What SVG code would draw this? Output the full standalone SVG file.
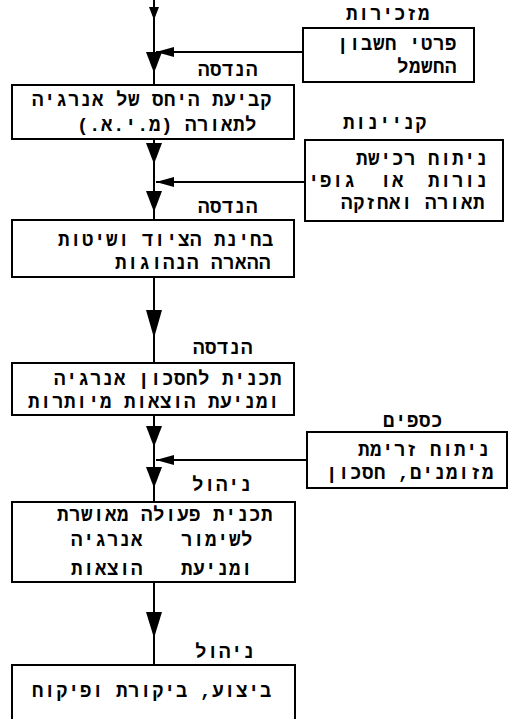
<svg xmlns="http://www.w3.org/2000/svg" xmlns:xlink="http://www.w3.org/1999/xlink" width="509" height="719" viewBox="0 0 509 719">
<style>
  .box { fill: #fff; stroke: #000; stroke-width: 2; }
  .t { font-family: "Liberation Mono", "DejaVu Sans Mono", monospace; font-size: 19px; letter-spacing: 0.6px; font-weight: bold; fill: #000; direction: rtl; text-anchor: start; }
  .ln { stroke: #000; stroke-width: 2; fill: none; }
  .ah { fill: #000; }
</style>
<defs>
  <path id="down" d="M-8,-21 L8,-21 L0,0 Z"/>
  <path id="left" d="M0,0 L18,-5 L18,5 Z"/>
</defs>
<rect width="509" height="719" fill="#fff"/>

<g id="connectors">
  <line class="ln" x1="154" y1="0" x2="154" y2="85"/>
  <line class="ln" x1="154" y1="139" x2="154" y2="220"/>
  <line class="ln" x1="154" y1="277" x2="154" y2="363"/>
  <line class="ln" x1="154" y1="415" x2="154" y2="502"/>
  <line class="ln" x1="154" y1="582" x2="154" y2="665"/>
  <line class="ln" x1="303" y1="52" x2="156" y2="52"/>
  <line class="ln" x1="305" y1="182" x2="156" y2="182"/>
  <line class="ln" x1="307" y1="460" x2="156" y2="460"/>
  <path class="ah" d="M149,7 L159,7 L154,20 Z"/>
  <use xlink:href="#down" class="ah" x="154" y="73"/>
  <use xlink:href="#down" class="ah" x="154" y="164"/>
  <use xlink:href="#down" class="ah" x="154" y="212"/>
  <path class="ah" d="M146,310 L162,310 L154,338 Z"/>
  <use xlink:href="#down" class="ah" x="154" y="447"/>
  <use xlink:href="#down" class="ah" x="154" y="488"/>
  <path class="ah" d="M146,612 L162,612 L154,638 Z"/>
  <use xlink:href="#left" class="ah" x="156" y="52"/>
  <use xlink:href="#left" class="ah" x="156" y="182"/>
  <use xlink:href="#left" class="ah" x="156" y="460"/>
</g>

<g id="node-secretariat">
  <text class="t" x="430" y="20">מזכירות</text>
  <rect class="box" x="303" y="28" width="171" height="54"/>
  <text class="t" x="457" y="50">פרטי חשבון</text>
  <text class="t" x="457" y="73">החשמל</text>
</g>

<g id="node-ratio">
  <text class="t" x="258" y="76">הנדסה</text>
  <rect class="box" x="12" y="85" width="282" height="54"/>
  <text class="t" x="272" y="106">קביעת היחס של אנרגיה</text>
  <text class="t" x="257" y="131">לתאורה (מ.י.א.)</text>
</g>

<g id="node-purchasing">
  <text class="t" x="427" y="129">קניינות</text>
  <rect class="box" x="305" y="140" width="198" height="81"/>
  <text class="t" x="488" y="165">ניתוח רכישת</text>
  <text class="t" x="488" y="187" xml:space="preserve">נורות  או  גופי</text>
  <text class="t" x="485" y="209">תאורה ואחזקה</text>
</g>

<g id="node-equipment">
  <text class="t" x="258" y="213">הנדסה</text>
  <rect class="box" x="12" y="220" width="282" height="57"/>
  <text class="t" x="274" y="246">בחינת הציוד ושיטות</text>
  <text class="t" x="271" y="269">ההארה הנהוגות</text>
</g>

<g id="node-savings-plan">
  <text class="t" x="253" y="354">הנדסה</text>
  <rect class="box" x="12" y="363" width="282" height="52"/>
  <text class="t" x="282" y="385">תכנית לחסכון אנרגיה</text>
  <text class="t" x="280" y="408">ומניעת הוצאות מיותרות</text>
</g>

<g id="node-finance">
  <text class="t" x="443" y="427">כספים</text>
  <rect class="box" x="307" y="432" width="200" height="56"/>
  <text class="t" x="490" y="456">ניתוח זרימת</text>
  <text class="t" x="494" y="479">מזומנים, חסכון</text>
</g>

<g id="node-action-plan">
  <text class="t" x="252" y="491">ניהול</text>
  <rect class="box" x="12" y="502" width="283" height="80"/>
  <text class="t" x="273" y="521">תכנית פעולה מאושרת</text>
  <text class="t" x="253" y="546">לשימור</text>
  <text class="t" x="143" y="546">אנרגיה</text>
  <text class="t" x="253" y="575">ומניעת</text>
  <text class="t" x="143" y="575">הוצאות</text>
</g>

<g id="node-execution">
  <text class="t" x="255" y="658">ניהול</text>
  <rect class="box" x="12" y="665" width="283" height="70"/>
  <text class="t" x="272" y="697">ביצוע, ביקורת ופיקוח</text>
</g>
</svg>
